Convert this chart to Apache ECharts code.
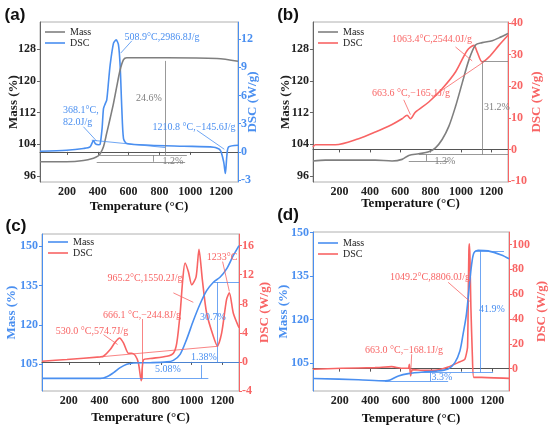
<!DOCTYPE html>
<html>
<head>
<meta charset="utf-8">
<script src="https://cdn.jsdelivr.net/npm/echarts@6/dist/echarts.min.js"></script>
<style>
  html, body { margin: 0; padding: 0; background: #fff; }
  #chart { width: 550px; height: 428px; }
</style>
</head>
<body>
<div id="chart"></div>
<script>
const GRAY = '#7f7f7f';
const BLUE = '#4a8ff0';
const RED = '#f86464';
const SERIF = '"Liberation Serif", "Times New Roman", serif';

const xTicks = [200, 400, 600, 800, 1000, 1200];

// (a)
const aMassT = [25, 198, 307, 372, 400, 415, 437, 458, 480, 502, 523, 545, 567, 588, 848, 1173, 1310];
const aMass = [99.6, 99.6, 99.9, 100.5, 101.0, 101.6, 103.4, 106.8, 110.5, 114.3, 118.5, 122.7, 125.3, 125.8, 125.8, 125.6, 124.9];
const aDscT = [25, 198, 307, 350, 372, 385, 405, 415, 428, 437, 448, 458, 470, 480, 502, 519, 534, 545, 556, 567, 588, 740, 957, 1152, 1195, 1217, 1228, 1238, 1249, 1310];
const aDsc = [0.07, 0.18, 0.36, 0.53, 1.2, 0.85, 0.75, 0.8, 2.5, 4.6, 5.1, 5.5, 7.5, 9.2, 11.55, 11.9, 11.4, 9.2, 4.6, 1.4, 0.9, 0.71, 0.6, 0.5, 0.18, -1.07, -2.3, -0.36, 0.53, 0.71];
const aMassTicks = [96, 104, 112, 120, 128];
const aDscTicks = [-3, 0, 3, 6, 9, 12];
const aMassMarks = [[[836, 125.0], [836, 101.3]], [[415, 101.3], [978, 101.3]], [[393, 99.6], [967, 99.6]], [[757, 99.6], [757, 101.3]]];
const aDscMarks = [[[549, 10.5], [621, 11.8]], [[307, 2.67], [393, 1.14]], [[361, 1.24], [838, 0.46]], [[1043, 2.3], [1221, 0.28]]];

// (b)
const bMassT = [25, 106, 436, 546, 612, 656, 722, 788, 832, 876, 920, 964, 1008, 1052, 1096, 1140, 1206, 1250, 1310];
const bMass = [99.8, 100.0, 100.0, 99.8, 100.2, 101.2, 101.6, 102.1, 103.1, 105.2, 108.5, 113.5, 119.4, 125.2, 129.0, 129.6, 130.1, 130.8, 131.9];
const bDscT = [25, 40, 172, 326, 436, 546, 612, 645, 667, 700, 788, 876, 964, 1041, 1085, 1107, 1140, 1184, 1250, 1310];
const bDsc = [0.74, 1.5, 1.5, 3.4, 5.5, 7.9, 9.7, 10.8, 9.7, 11.8, 15.0, 19.2, 24.5, 31.3, 32.9, 30.8, 27.7, 29.2, 32.9, 36.1];
const bMassTicks = [96, 104, 112, 120, 128];
const bDscTicks = [-10, 0, 10, 20, 30, 40];
const bMassMarks = [[[1140, 124.8], [1140, 101.4]], [[1140, 124.8], [1310, 124.8]], [[722, 101.4], [1310, 101.4]], [[656, 99.8], [920, 99.8]], [[771, 99.8], [771, 101.4]]];
const bDscMarks = [[[964, 32.4], [1074, 28.0]], [[810, 16.6], [1151, 27.7]], [[623, 15.7], [667, 11.0]]];

// (c)
const cMassT = [25, 405, 448, 492, 535, 578, 622, 730, 839, 882, 926, 969, 1012, 1056, 1099, 1143, 1186, 1229, 1273, 1310];
const cMass = [99.6, 99.6, 100.2, 101.8, 103.7, 105.0, 105.5, 105.6, 105.9, 106.5, 108.8, 114.6, 121.6, 128.0, 133.1, 136.3, 138.2, 141.4, 146.5, 150.3];
const cDscT = [25, 188, 405, 426, 470, 502, 531, 557, 589, 611, 633, 654, 672, 687, 730, 839, 882, 904, 926, 943, 958, 980, 1002, 1030, 1049, 1071, 1099, 1143, 1169, 1197, 1229, 1247, 1273, 1310];
const cDsc = [0.1, 0.34, 0.7, 0.78, 1.7, 2.7, 3.3, 2.6, 1.2, 1.2, 0.9, -0.14, -2.6, 0.3, 0.46, 0.78, 1.2, 2.6, 6.7, 11.3, 13.6, 12.4, 10.6, 11.7, 15.5, 11.3, 6.7, 3.5, 2.2, 4.0, 8.6, 9.5, 6.7, 4.7];
const cMassTicks = [105, 120, 135, 150];
const cDscTicks = [-4, 0, 4, 8, 12, 16];
const cMassMarks = [[[1171, 136.3], [1171, 105.6]], [[1143, 136.3], [1310, 136.3]], [[687, 105.6], [1310, 105.6]], [[1067, 104.7], [1067, 99.6]], [[25, 99.6], [1110, 99.6]]];
const cDscMarks = [[[1203, 13.8], [1247, 9.7]], [[882, 9.5], [1012, 8.2]], [[676, 5.9], [676, -2.4]], [[426, 3.76], [518, 2.4]], [[405, 0.7], [1175, 2.16]]];

// (d)
const dMassT = [25, 323, 498, 530, 585, 650, 759, 824, 911, 955, 988, 1009, 1031, 1053, 1068, 1081, 1107, 1173, 1260, 1310];
const dMass = [99.7, 99.3, 98.9, 99.2, 100.6, 101.4, 102.0, 102.2, 103.0, 105.2, 109.2, 115.0, 121.9, 133.4, 140.2, 143.1, 143.9, 143.7, 142.3, 141.0];
const dDscT = [25, 214, 432, 541, 606, 650, 657, 665, 676, 759, 824, 911, 977, 1020, 1038, 1043, 1047, 1050, 1054, 1060, 1070, 1079, 1129, 1310];
const dDsc = [-0.5, 0.3, 0.8, 1.6, 0.3, 0.3, 3.5, -5.9, -0.8, -1.4, -1.4, 1.3, 4.9, 7.5, 17, 60, 95, 100.5, 90, 50, 10, -7.0, -7.0, -7.8];
const dMassTicks = [105, 120, 135, 150];
const dDscTicks = [0, 20, 40, 60, 80, 100];
const dMassMarks = [[[1123, 143.7], [1123, 101.8]], [[1081, 143.7], [1277, 143.7]], [[737, 101.8], [1206, 101.8]], [[796, 101.8], [796, 98.7]], [[498, 98.7], [911, 98.7]]];
const dDscMarks = [[[911, 69.5], [1053, 54.2]], [[672, 11.6], [665, -4.6]]];

const zip = (t, v) => t.map((x, i) => [x, v[i]]);

const panels = [
  { grid: { left: 40, top: 22, width: 198, height: 160 }, letter: '(a)', lx: 15, ly: 15,
    mass: { t: aMassT, v: aMass, min: 94.5, max: 134.8, ticks: aMassTicks, color: GRAY, label: '#222', axis: '#666', gap: 20, marks: aMassMarks },
    dsc: { t: aDscT, v: aDsc, min: -3.2, max: 13.8, ticks: aDscTicks, color: BLUE, gap: 8, marks: aDscMarks, smooth: 0.25 },
    xGap: 18, legend: { left: 45, top: 27 } },
  { grid: { left: 313, top: 22, width: 195, height: 160 }, letter: '(b)', lx: 288, ly: 15,
    mass: { t: bMassT, v: bMass, min: 94.5, max: 134.8, ticks: bMassTicks, color: GRAY, label: '#222', axis: '#666', gap: 21, marks: bMassMarks },
    dsc: { t: bDscT, v: bDsc, min: -10.3, max: 40.3, ticks: bDscTicks, color: RED, gap: 22, marks: bDscMarks, smooth: 0.3 },
    xGap: 15, legend: { left: 318, top: 27 } },
  { grid: { left: 42, top: 234, width: 197, height: 157 }, letter: '(c)', lx: 16, ly: 226,
    mass: { t: cMassT, v: cMass, min: 94.8, max: 154.7, ticks: cMassTicks, color: BLUE, label: BLUE, axis: BLUE, gap: 24, marks: cMassMarks },
    dsc: { t: cDscT, v: cDsc, min: -4, max: 17.6, ticks: cDscTicks, color: RED, gap: 19, marks: cDscMarks, smooth: 0.25 },
    xGap: 20, legend: { left: 48, top: 237 } },
  { grid: { left: 313, top: 232, width: 196, height: 159 }, letter: '(d)', lx: 288, ly: 215,
    mass: { t: dMassT, v: dMass, min: 95.4, max: 150.2, ticks: dMassTicks, color: BLUE, label: BLUE, axis: BLUE, gap: 23, marks: dMassMarks },
    dsc: { t: dDscT, v: dDsc, min: -18, max: 110, ticks: dDscTicks, color: RED, gap: 26, marks: dDscMarks, smooth: 0.15 },
    xGap: 21, legend: { left: 318, top: 238 } }
];

const labelFont = { fontFamily: SERIF, fontWeight: 'bold', fontSize: 12 };
const nameFont = { fontFamily: SERIF, fontWeight: 'bold', fontSize: 13 };

function markLines(segs, color) {
  return {
    silent: true, symbol: ['none', 'none'], animation: false,
    label: { show: false }, emphasis: { disabled: true },
    lineStyle: { color: color, width: 0.8, type: 'solid' },
    data: segs.map(s => [{ coord: s[0] }, { coord: s[1] }])
  };
}

const grid = [], xAxis = [], yAxis = [], series = [], legend = [];
panels.forEach((p, i) => {
  const pad = ' '.repeat(i);
  grid.push(Object.assign({ show: true, borderColor: '#b0b0b0', borderWidth: 1, backgroundColor: 'transparent' }, p.grid));
  xAxis.push({
    type: 'value', gridIndex: i, min: 25, max: 1310,
    name: 'Temperature (°C)', nameLocation: 'middle', nameGap: p.xGap, nameMoveOverlap: false,
    nameTextStyle: Object.assign({ color: '#111' }, nameFont),
    axisLine: { lineStyle: { color: '#555' } },
    axisTick: { customValues: xTicks, length: 3, lineStyle: { color: '#555' } },
    axisLabel: Object.assign({ customValues: xTicks, color: '#222', margin: 4, formatter: v => String(v) }, labelFont),
    splitLine: { show: false }
  });
  yAxis.push({
    type: 'value', gridIndex: i, position: 'left', min: p.mass.min, max: p.mass.max,
    name: 'Mass (%)', nameLocation: 'middle', nameGap: p.mass.gap, nameMoveOverlap: false,
    nameTextStyle: Object.assign({ color: p.mass.label }, nameFont),
    axisLine: { show: true, lineStyle: { color: p.mass.axis } },
    axisTick: { show: true, customValues: p.mass.ticks, length: 3, lineStyle: { color: p.mass.axis } },
    axisLabel: Object.assign({ customValues: p.mass.ticks, color: p.mass.label, margin: 4, formatter: v => String(v) }, labelFont),
    splitLine: { show: false }
  });
  yAxis.push({
    type: 'value', gridIndex: i, position: 'right', min: p.dsc.min, max: p.dsc.max,
    name: 'DSC (W/g)', nameLocation: 'middle', nameGap: p.dsc.gap, nameMoveOverlap: false,
    nameTextStyle: Object.assign({ color: p.dsc.color }, nameFont),
    axisLine: { show: true, lineStyle: { color: p.dsc.color } },
    axisTick: { show: true, customValues: p.dsc.ticks, length: 3, lineStyle: { color: p.dsc.color } },
    axisLabel: Object.assign({ customValues: p.dsc.ticks, color: p.dsc.color, margin: 3, formatter: v => String(v) }, labelFont),
    splitLine: { show: false }
  });
  series.push({
    name: 'Mass' + pad, type: 'line', xAxisIndex: i, yAxisIndex: 2 * i,
    data: zip(p.mass.t, p.mass.v), symbol: 'none', smooth: 0.3,
    lineStyle: { color: p.mass.color, width: 1.6 }, itemStyle: { color: p.mass.color },
    markLine: markLines(p.mass.marks, p.mass.color), z: 3
  });
  series.push({
    name: 'DSC' + pad, type: 'line', xAxisIndex: i, yAxisIndex: 2 * i + 1,
    data: zip(p.dsc.t, p.dsc.v), symbol: 'none', smooth: p.dsc.smooth,
    lineStyle: { color: p.dsc.color, width: 1.6 }, itemStyle: { color: p.dsc.color },
    markLine: markLines(p.dsc.marks, p.dsc.color), z: 2
  });
  legend.push({
    orient: 'vertical', left: p.legend.left, top: p.legend.top, padding: 0,
    icon: 'rect', itemWidth: 20, itemHeight: 1.6, itemGap: 1,
    data: ['Mass' + pad, 'DSC' + pad],
    textStyle: { fontFamily: SERIF, fontSize: 10, color: '#222', lineHeight: 10 }
  });
});

const notes = [
  ['508.9°C,2986.8J/g', 162, 37, BLUE, 10, 'center'],
  ['368.1°C,', 63, 110, BLUE, 10, 'left'],
  ['82.0J/g', 63, 122, BLUE, 10, 'left'],
  ['1210.8 °C,−145.6J/g', 194, 127, BLUE, 10, 'center'],
  ['24.6%', 149, 98, GRAY, 10, 'center'],
  ['1.2%', 173, 161, GRAY, 10, 'center'],
  ['1063.4°C,2544.0J/g', 432, 39, RED, 10, 'center'],
  ['663.6 °C,−165.1J/g', 411, 93, RED, 10, 'center'],
  ['31.2%', 497, 107, GRAY, 10, 'center'],
  ['1.3%', 445, 161, GRAY, 10, 'center'],
  ['1233°C', 222, 257, RED, 10, 'center'],
  ['965.2°C,1550.2J/g', 145, 278, RED, 10, 'center'],
  ['666.1 °C,−244.8J/g', 142, 315, RED, 10, 'center'],
  ['530.0 °C,574.7J/g', 92, 331, RED, 10, 'center'],
  ['30.7%', 213, 317, BLUE, 10, 'center'],
  ['1.38%', 204, 357, BLUE, 10, 'center'],
  ['5.08%', 168, 369, BLUE, 10, 'center'],
  ['1049.2°C,8806.0J/g', 430, 277, RED, 10, 'center'],
  ['663.0 °C,−168.1J/g', 404, 350, RED, 10, 'center'],
  ['41.9%', 492, 309, BLUE, 10, 'center'],
  ['3.3%', 442, 377, BLUE, 10, 'center']
];

const graphic = notes.map(n => ({
  type: 'text', x: n[1], y: n[2], silent: true, z: 10,
  style: { text: n[0], fill: n[3], font: n[4] + 'px ' + SERIF, align: n[5], verticalAlign: 'middle', textAlign: n[5], textVerticalAlign: 'middle' }
}));
panels.forEach(p => {
  graphic.push({
    type: 'text', x: p.lx, y: p.ly, silent: true,
    style: { text: p.letter, fill: '#111', font: 'bold 17px "Liberation Sans", Arial, sans-serif', align: 'center', verticalAlign: 'middle', textAlign: 'center', textVerticalAlign: 'middle' }
  });
});

const chart = echarts.init(document.getElementById('chart'));
chart.setOption({
  animation: false,
  backgroundColor: '#fff',
  grid, xAxis, yAxis, series, legend, graphic
});
</script>
</body>
</html>
